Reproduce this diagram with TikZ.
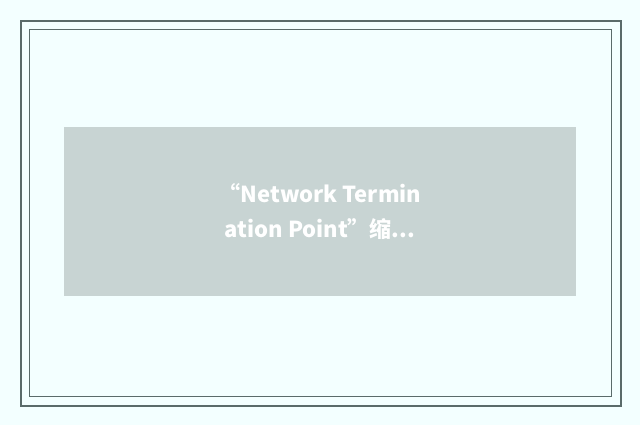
\documentclass[tikz,border=0pt]{standalone}
\usepackage{fontspec}
\newfontfamily\cjk{Noto Sans CJK SC}
\usepackage{tikz}
\definecolor{paper}{HTML}{F3FFFF}
\definecolor{frame}{HTML}{5A6B6A}
\definecolor{panel}{HTML}{C8D4D3}
\tikzset{panelbox/.style={fill=panel, draw=none, minimum width=512pt, minimum height=169pt, inner sep=0pt}}
\begin{document}
\begin{tikzpicture}[x=1pt, y=-1pt]
			%%%%% START %%%%%
			
			\fill[paper] (0, 0) rectangle (640, 425);
			\useasboundingbox (0, 0) rectangle (640, 425);
			
			\draw[line width=2pt, color=frame] (21, 21) rectangle (621, 406);
			\draw[line width=1pt, color=frame] (29.5, 29.5) rectangle (611.5, 396.5);
			
			\node[panelbox] (panel) at (320, 211.5) {};
			\node[text=white, font=\cjk\bfseries\fontsize{22}{35}\selectfont, align=center] (title) at (panel.center) {“Network Termin\\ation Point”缩...};
			
			%%%%% END %%%%%
		\end{tikzpicture}
\end{document}
